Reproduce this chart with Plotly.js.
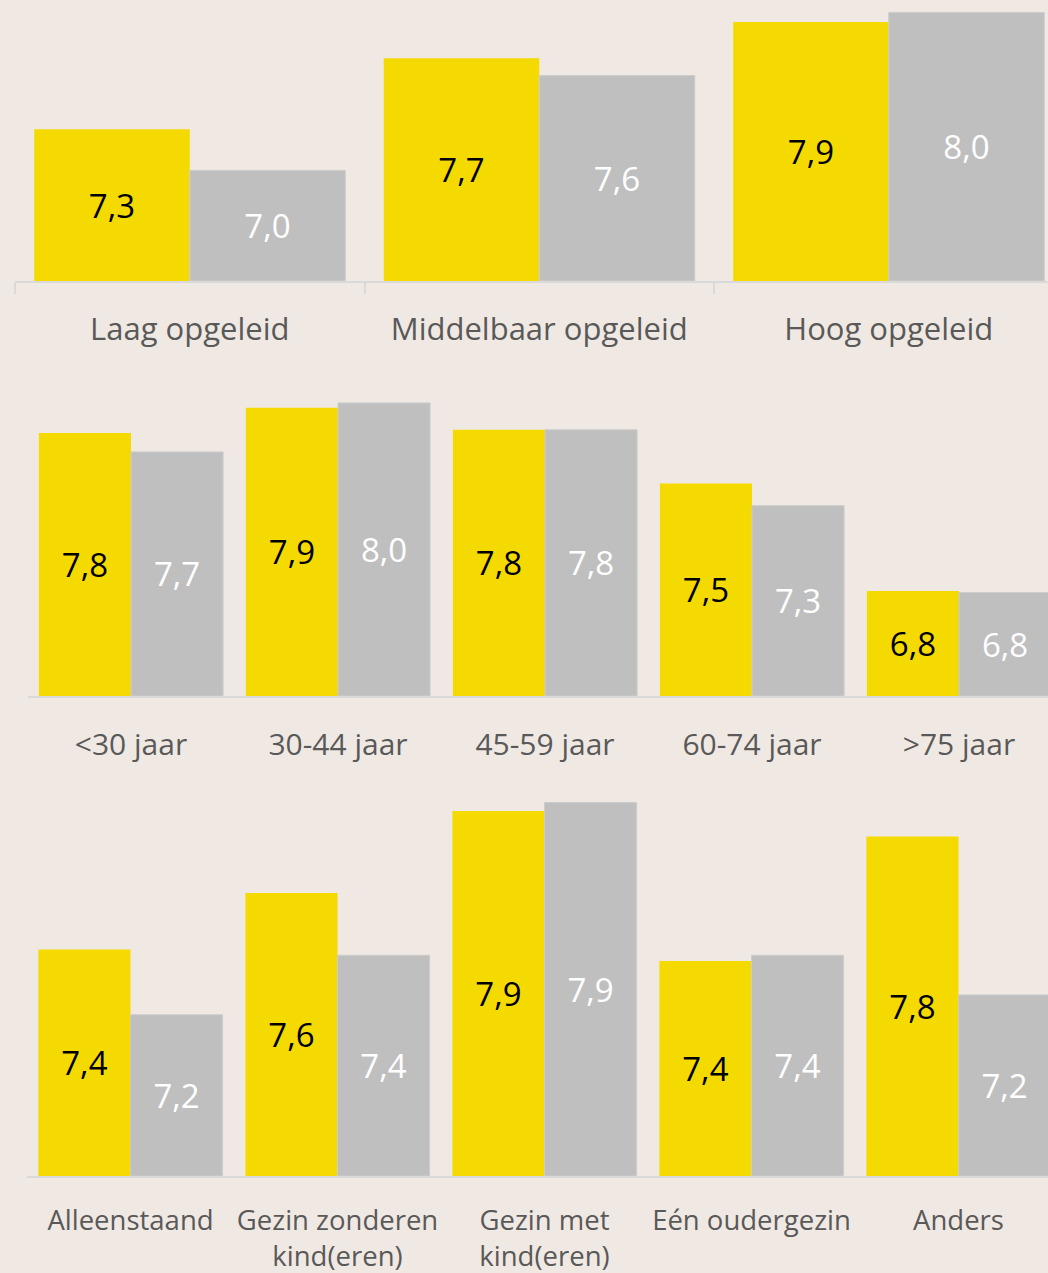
<!DOCTYPE html>
<html><head><meta charset="utf-8">
<script src="https://cdn.plot.ly/plotly-3.0.1.min.js"></script>
<style>html,body{margin:0;padding:0;background:#F0E9E3;overflow:hidden}</style>
</head><body><div id="chart" style="width:1048px;height:1273px"></div>
<script>
// ---- data ----
const eduCategories = ['Laag opgeleid', 'Middelbaar opgeleid', 'Hoog opgeleid'];
const eduYellow = [7.26, 7.71, 7.94];
const eduGray   = [7.00, 7.60, 8.00];

const ageCategories = ['<30 jaar', '30-44 jaar', '45-59 jaar', '60-74 jaar', '>75 jaar'];
const ageYellow = [7.78, 7.94, 7.80, 7.46, 6.78];
const ageGray   = [7.66, 7.97, 7.80, 7.32, 6.77];

const hhCategories = ['Alleenstaand', 'Gezin zonderen<br>kind(eren)', 'Gezin met<br>kind(eren)', 'Eén oudergezin', 'Anders'];
const hhYellow = [7.40, 7.60, 7.89, 7.36, 7.80];
const hhGray   = [7.17, 7.38, 7.92, 7.38, 7.24];

// ---- styling ----
const W = 1048, H = 1273;
const BG = '#F0E9E3';
const YELLOW = '#F5DA00';
const GRAY = '#BFBFBF';
const AXIS = '#D9D9D9';
const FONT = 'Open Sans, Noto Sans, sans-serif';

function fmt(v) { return v.toFixed(1).replace('.', ','); }

// panel geometry in pixels
const panels = [
  {cats: eduCategories, yel: eduYellow, gry: eduGray, left: 15, catW: 349.5, bottom: 281, top: 10, ymin: 6.30, pxPerUnit: 158, tickSize: 31, standoff: 20},
  {cats: ageCategories, yel: ageYellow, gry: ageGray, left: 27.5, catW: 207, bottom: 696, top: 395, ymin: 6.115, pxPerUnit: 158, tickSize: 30, standoff: 21},
  {cats: hhCategories, yel: hhYellow, gry: hhGray, left: 27, catW: 207, bottom: 1176, top: 790, ymin: 6.60, pxPerUnit: 283, tickSize: 27.5, standoff: 19}
];

const traces = [];
const layout = {
  width: W, height: H,
  margin: {l: 0, r: 0, t: 0, b: 0},
  paper_bgcolor: BG, plot_bgcolor: BG,
  showlegend: false,
  barmode: 'group', bargap: 0.11, bargroupgap: 0,
  font: {family: FONT, color: '#595959'}
};

panels.forEach((p, i) => {
  const n = i === 0 ? '' : String(i + 1);
  const xa = 'x' + n, ya = 'y' + n;
  const mk = (vals, color, txtColor, line) => ({
    type: 'bar', x: p.cats, y: vals.map(v => v - p.ymin), base: p.ymin,
    xaxis: xa, yaxis: ya,
    marker: {color: color, line: {width: line ? 1 : 0, color: line || color}},
    text: vals.map(fmt), textposition: 'inside', insidetextanchor: 'middle',
    textangle: 0, constraintext: 'none',
    textfont: {family: FONT, size: 33, color: txtColor},
    hoverinfo: 'skip', cliponaxis: false
  });
  traces.push(mk(p.yel, YELLOW, '#000000', null));
  traces.push(mk(p.gry, GRAY, '#FFFFFF', '#CDCDCD'));

  layout['xaxis' + n] = {
    anchor: ya, type: 'category',
    domain: [p.left / W, 1],
    range: [-0.5, -0.5 + (W - p.left) / p.catW],
    showline: true, linecolor: AXIS, linewidth: 2,
    ticks: i === 0 ? 'outside' : '', tickson: 'boundaries', ticklen: 11, tickwidth: 2, tickcolor: AXIS,
    tickfont: {family: FONT, size: p.tickSize, color: '#595959'},
    ticklabelstandoff: p.standoff,
    showgrid: false, zeroline: false, fixedrange: true
  };
  layout['yaxis' + n] = {
    anchor: xa,
    domain: [(H - p.bottom) / H, (H - p.top) / H],
    range: [p.ymin, p.ymin + (p.bottom - p.top) / p.pxPerUnit],
    visible: false, showgrid: false, zeroline: false, fixedrange: true
  };
});

Plotly.newPlot('chart', traces, layout, {displayModeBar: false, staticPlot: true});
</script>
</body></html>
